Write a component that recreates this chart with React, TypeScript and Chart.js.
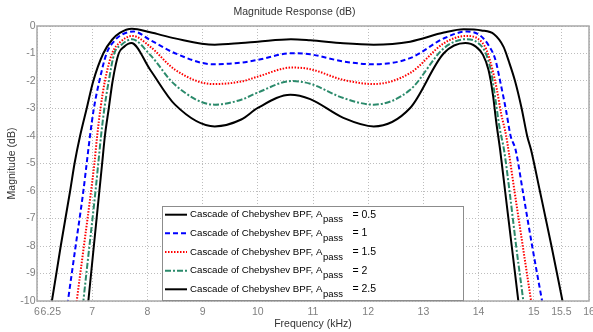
import React, { useEffect, useRef } from 'react';
import { Chart, registerables } from 'chart.js';

Chart.register(...registerables);

const FONT = "'Liberation Sans', Arial, Helvetica, sans-serif";

// Apass = 0.5
const freqA = [6.18, 6.27, 6.43, 6.6, 6.68, 6.78, 6.9, 7.02, 7.2, 7.36, 7.5, 7.72, 8.05, 8.5, 9.22, 9.7, 10.0, 10.6, 10.95, 11.55, 12.1, 12.76, 13.37, 13.73, 14.05, 14.28, 14.45, 14.55, 14.66, 14.78, 14.88, 14.95, 15.11, 15.32, 15.52, 15.62];
const magA = [-11, -10, -8, -6, -5, -4, -3, -2, -1, -0.5, -0.25, -0.1, -0.23, -0.45, -0.68, -0.62, -0.57, -0.48, -0.52, -0.63, -0.68, -0.57, -0.24, -0.12, -0.16, -0.3, -0.75, -1.3, -2, -3, -4, -4.5, -6, -8, -10, -11];

// Apass = 1
const freqB = [6.49, 6.56, 6.7, 6.84, 6.9, 6.96, 7.03, 7.13, 7.26, 7.42, 7.55, 7.75, 8.05, 8.5, 9.19, 9.7, 10.0, 10.62, 10.95, 11.55, 12.1, 12.76, 13.37, 13.79, 14.02, 14.18, 14.3, 14.4, 14.5, 14.58, 14.67, 14.8, 14.97, 15.15, 15.24];
const magB = [-11, -10, -8, -6, -5, -4, -3, -2, -1, -0.5, -0.3, -0.2, -0.51, -0.99, -1.39, -1.33, -1.23, -0.99, -1.03, -1.29, -1.39, -1.17, -0.45, -0.2, -0.33, -0.7, -1.2, -2.1, -3.1, -4, -4.5, -6, -8, -10, -11];

// Apass = 1.5
const freqC = [6.66, 6.72, 6.85, 6.98, 7.04, 7.09, 7.15, 7.23, 7.36, 7.5, 7.73, 8.05, 8.5, 9.19, 9.7, 10.0, 10.62, 10.95, 11.55, 12.1, 12.76, 13.37, 13.77, 14.0, 14.14, 14.24, 14.33, 14.41, 14.5, 14.54, 14.65, 14.8, 14.95, 15.02];
const magC = [-11, -10, -8, -6, -5, -4, -3, -2, -1, -0.6, -0.36, -0.75, -1.59, -2.11, -2.02, -1.84, -1.51, -1.57, -1.96, -2.11, -1.71, -0.63, -0.36, -0.48, -0.85, -1.5, -2.3, -3.2, -4, -4.5, -6, -8, -10, -11];

// Apass = 2
const freqD = [6.79, 6.84, 6.95, 7.06, 7.11, 7.16, 7.22, 7.3, 7.4, 7.52, 7.72, 8.05, 8.5, 9.22, 9.7, 10.0, 10.62, 10.95, 11.55, 12.1, 12.76, 13.37, 13.77, 13.98, 14.12, 14.22, 14.3, 14.38, 14.46, 14.56, 14.68, 14.81, 14.87];
const magD = [-11, -10, -8, -6, -5, -4, -3, -2, -1, -0.7, -0.48, -1.05, -2.14, -2.86, -2.68, -2.42, -2.0, -2.1, -2.62, -2.86, -2.32, -0.81, -0.48, -0.6, -0.95, -1.6, -2.6, -3.7, -4.5, -6, -8, -10, -11];

// Apass = 2.5
const freqE = [6.88, 6.93, 7.03, 7.13, 7.18, 7.23, 7.3, 7.37, 7.48, 7.58, 7.71, 8.05, 8.5, 9.22, 9.7, 10.0, 10.59, 10.95, 11.55, 12.1, 12.76, 13.37, 13.76, 13.95, 14.08, 14.18, 14.26, 14.32, 14.39, 14.48, 14.6, 14.72, 14.78];
const magE = [-11, -10, -8, -6, -5, -4, -3, -2, -1, -0.75, -0.62, -1.59, -2.86, -3.65, -3.4, -2.98, -2.5, -2.66, -3.34, -3.65, -2.98, -0.99, -0.62, -0.75, -1.05, -1.6, -2.5, -3.5, -4.5, -6, -8, -10, -11];

const apassValues = ['0.5', '1', '1.5', '2', '2.5'];
const xTickValues = [6, 6.25, 7, 8, 9, 10, 11, 12, 13, 14, 15, 15.5, 16];
const yMin = -10;
const yMax = 0;

const seriesStyles = [
  { color: '#000000', dash: [] as number[] },
  { color: '#0000ff', dash: [5, 3] },
  { color: '#ff0000', dash: [1.5, 1.5] },
  { color: '#2b8a6b', dash: [6, 2, 2, 2] },
  { color: '#000000', dash: [] as number[] },
];

const toPoints = (f: number[], m: number[]) => f.map((x, i) => ({ x, y: m[i] }));

const framePlugin = {
  id: 'axesFrame',
  afterDatasetsDraw(chart: any) {
    const { ctx, chartArea: a } = chart;
    ctx.save();
    ctx.strokeStyle = '#a8a8a8';
    ctx.lineWidth = 1.5;
    ctx.setLineDash([]);
    ctx.strokeRect(a.left, a.top, a.right - a.left, a.bottom - a.top);
    ctx.restore();
  },
};

const legendPlugin = {
  id: 'matlabLegend',
  afterDraw(chart: any) {
    const { ctx, chartArea: a } = chart;
    const left = a.left + 125;
    const right = a.left + 427;
    const top = a.bottom - 95;
    const bottom = a.bottom;
    ctx.save();
    ctx.fillStyle = '#ffffff';
    ctx.fillRect(left, top, right - left, bottom - top);
    ctx.strokeStyle = '#8c8c8c';
    ctx.lineWidth = 1;
    ctx.setLineDash([]);
    ctx.strokeRect(left + 0.5, top + 0.5, right - left - 1, bottom - top - 1);
    apassValues.forEach((val, i) => {
      const y = top + 8.7 + i * 18.65;
      const st = seriesStyles[i];
      ctx.strokeStyle = st.color;
      ctx.lineWidth = 2;
      ctx.setLineDash(st.dash);
      ctx.beginPath();
      ctx.moveTo(left + 3, y);
      ctx.lineTo(left + 25, y);
      ctx.stroke();
      ctx.setLineDash([]);
      ctx.fillStyle = '#000000';
      ctx.textBaseline = 'middle';
      ctx.textAlign = 'left';
      let x = left + 28;
      const main = 'Cascade of Chebyshev BPF, A';
      ctx.font = `9.7px ${FONT}`;
      ctx.fillText(main, x, y);
      x += ctx.measureText(main).width;
      ctx.font = `9.5px ${FONT}`;
      ctx.fillText('pass', x + 0.5, y + 5);
      ctx.font = `10.5px ${FONT}`;
      ctx.fillText(`= ${val}`, x + 30, y);
    });
    ctx.restore();
  },
};

export default function App() {
  const canvasRef = useRef<HTMLCanvasElement>(null);

  useEffect(() => {
    const freqs = [freqA, freqB, freqC, freqD, freqE];
    const mags = [magA, magB, magC, magD, magE];
    const chart = new Chart(canvasRef.current as HTMLCanvasElement, {
      type: 'line',
      data: {
        datasets: apassValues.map((v, i) => ({
          label: `Cascade of Chebyshev BPF, Apass = ${v}`,
          data: toPoints(freqs[i], mags[i]),
          borderColor: seriesStyles[i].color,
          borderDash: seriesStyles[i].dash,
          borderWidth: 2,
          pointRadius: 0,
          fill: false,
          cubicInterpolationMode: 'monotone' as const,
        })),
      },
      options: {
        animation: false,
        responsive: true,
        maintainAspectRatio: false,
        events: [],
        layout: { padding: { left: 0, right: 4, top: 0, bottom: 0 } },
        plugins: {
          legend: { display: false },
          tooltip: { enabled: false },
          title: {
            display: true,
            text: 'Magnitude Response (dB)',
            color: '#333333',
            font: { family: FONT, size: 10.5, weight: 'normal' as const },
            padding: { top: 5.7, bottom: 7.7 },
          },
        },
        scales: {
          x: {
            type: 'linear',
            min: 6,
            max: 16,
            afterBuildTicks: (scale: any) => {
              scale.ticks = xTickValues.map((v) => ({ value: v }));
            },
            afterFit: (scale: any) => {
              scale.height = 31;
              scale.paddingLeft = 0;
              scale.paddingRight = 0;
            },
            ticks: {
              autoSkip: false,
              maxRotation: 0,
              minRotation: 0,
              padding: 5,
              color: '#808080',
              font: { family: FONT, size: 10.5 },
              callback: (v: any) => String(v),
            },
            grid: { color: '#bdbdbd', lineWidth: 1, drawTicks: false },
            border: { display: false, dash: [1, 2] },
            title: {
              display: true,
              text: 'Frequency (kHz)',
              color: '#333333',
              font: { family: FONT, size: 10.5 },
              padding: { top: 0, bottom: 1.7 },
            },
          },
          y: {
            type: 'linear',
            min: yMin,
            max: yMax,
            afterFit: (scale: any) => {
              scale.width = 37;
              scale.paddingTop = 0;
              scale.paddingBottom = 0;
            },
            ticks: {
              stepSize: 1,
              padding: 1.5,
              color: '#808080',
              font: { family: FONT, size: 10.5 },
              callback: (v: any) => String(v),
            },
            grid: { color: '#bdbdbd', lineWidth: 1, drawTicks: false },
            border: { display: false, dash: [1, 2] },
            title: {
              display: true,
              text: 'Magnitude (dB)',
              color: '#333333',
              font: { family: FONT, size: 10.5 },
              padding: { top: 5.7, bottom: 0 },
            },
          },
        },
      },
      plugins: [framePlugin, legendPlugin],
    } as any);
    return () => chart.destroy();
  }, []);

  return (
    <div style={{ position: 'absolute', left: 0, top: 0, width: 593, height: 332, background: '#ffffff' }}>
      <canvas ref={canvasRef} />
    </div>
  );
}
